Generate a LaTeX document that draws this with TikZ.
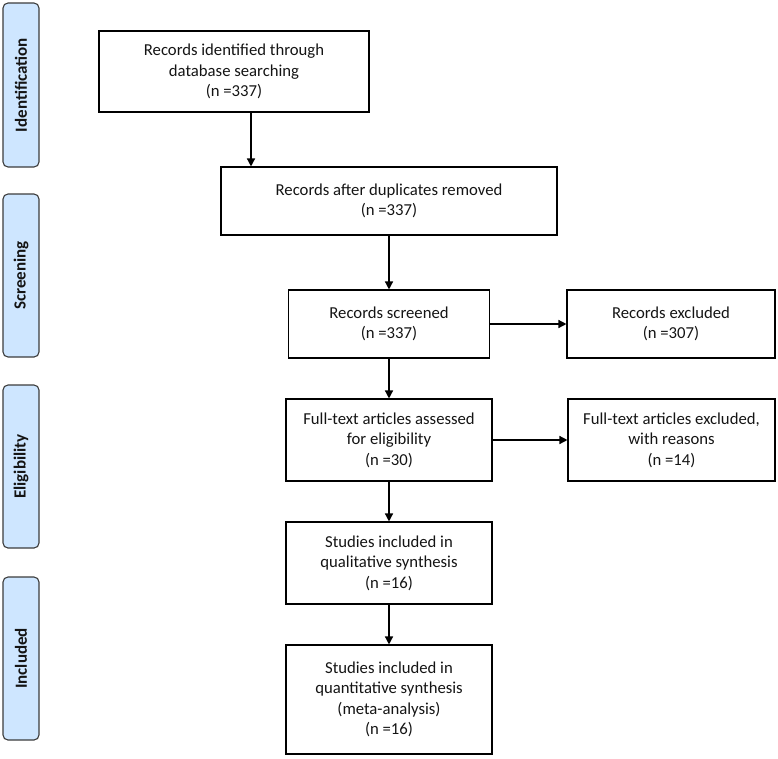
\documentclass[tikz,border=0pt]{standalone}
\usepackage{fontspec}
\setmainfont{Carlito}
\usetikzlibrary{arrows.meta}
\definecolor{sidefill}{RGB}{206,230,255}
\definecolor{sideline}{RGB}{60,60,60}
\definecolor{txt}{RGB}{20,20,20}
\begin{document}
\begin{tikzpicture}[x=1pt,y=-1pt,
  box/.style={draw=black, line width=1.1pt, align=center, inner sep=0pt, text=txt,
    font=\fontsize{16.7}{20.4}\selectfont},
  side/.style={draw=sideline, fill=sidefill, rounded corners=5pt, line width=1.1pt,
    rotate=90, minimum height=36pt, inner sep=0pt, text=txt,
    font=\fontsize{17}{20}\selectfont\bfseries},
  arr/.style={-{Triangle[length=8pt,width=8pt]}, line width=1.4pt}]
\useasboundingbox (0,0) rectangle (778,758);

% side phase labels
\node[side, minimum width=164pt] (s1) at (21,85) {Identification};
\node[side, minimum width=163pt] (s2) at (21,275.5) {Screening};
\node[side, minimum width=163pt] (s3) at (21,466.5) {Eligibility};
\node[side, minimum width=163pt] (s4) at (21,658.5) {Included};

% main boxes
\node[box, minimum width=270pt, minimum height=81pt] (b1) at (234,71.5)
  {Records identified through\\database searching\\(n =337)};
\node[box, minimum width=336pt, minimum height=68pt] (b2) at (389,201)
  {Records after duplicates removed\\(n =337)};
\node[box, minimum width=201pt, minimum height=68pt] (b3) at (389,324)
  {Records screened\\(n =337)};
\node[box, minimum width=208pt, minimum height=68pt] (e1) at (671,324)
  {Records excluded\\(n =307)};
\node[box, minimum width=206pt, minimum height=82pt] (b4) at (389,440)
  {Full-text articles assessed\\for eligibility\\(n =30)};
\node[box, minimum width=207pt, minimum height=82pt] (e2) at (671.5,440)
  {Full-text articles excluded,\\with reasons\\(n =14)};
\node[box, minimum width=206pt, minimum height=82pt] (b5) at (389,563)
  {Studies included in\\qualitative synthesis\\(n =16)};
\node[box, minimum width=206pt, minimum height=109pt] (b6) at (389,699.5)
  {Studies included in\\quantitative synthesis\\(meta-analysis)\\(n =16)};

% connectors
\coordinate (c1) at (251,0);
\draw[arr] (b1.south -| c1) -- (b2.north -| c1);
\draw[arr] (b3.north |- b2.south) -- (b3.north);
\draw[arr] (b3.east) -- (e1.west);
\draw[arr] (b3.south) -- (b4.north);
\draw[arr] (b4.east) -- (e2.west);
\draw[arr] (b4.south) -- (b5.north);
\draw[arr] (b5.south) -- (b6.north);
\end{tikzpicture}
\end{document}
